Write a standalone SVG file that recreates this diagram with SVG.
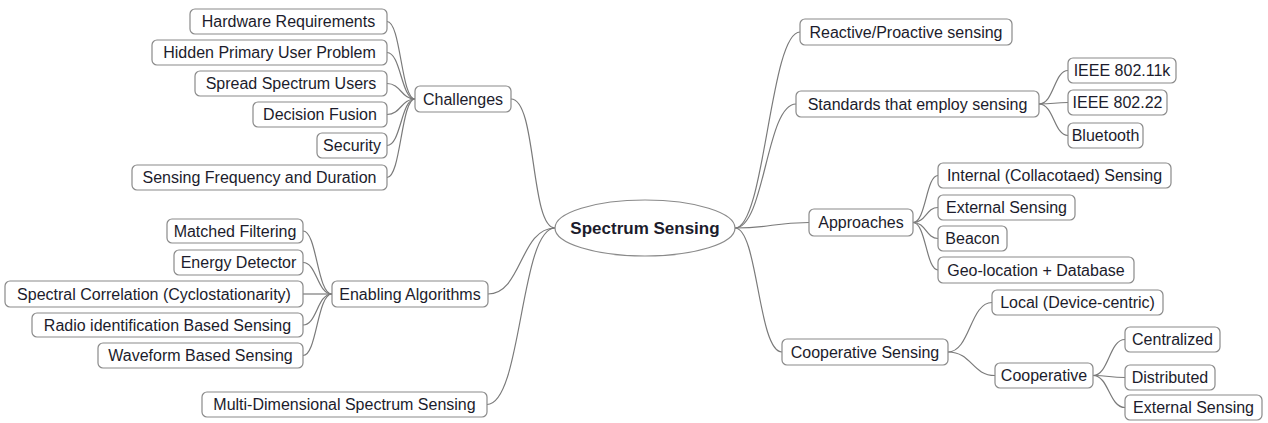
<svg xmlns="http://www.w3.org/2000/svg" width="1268" height="423" viewBox="0 0 1268 423">
<style>
.b{fill:#fff;stroke:#8a8a8a;stroke-width:1.2}
.t{font-family:"Liberation Sans",Arial,sans-serif;font-size:16px;fill:#1c1c2c;text-anchor:middle}
.c{fill:none;stroke:#7a7a7a;stroke-width:1.2}
.m{font-family:"Liberation Sans",Arial,sans-serif;font-size:17px;font-weight:bold;fill:#1c1c2c;text-anchor:middle}
</style>
<rect width="1268" height="423" fill="#fff"/>
<g id="connectors">
<path class="c" d="M387,21.5 C401,21.5 401,99 415,99"/>
<path class="c" d="M387,52.5 C401,52.5 401,99 415,99"/>
<path class="c" d="M387,83.5 C401,83.5 401,99 415,99"/>
<path class="c" d="M387,114.5 C401,114.5 401,99 415,99"/>
<path class="c" d="M387,145.5 C401,145.5 401,99 415,99"/>
<path class="c" d="M387,177.5 C401,177.5 401,99 415,99"/>
<path class="c" d="M303,231 C317,231 317,294 332,294"/>
<path class="c" d="M303,262.5 C317,262.5 317,294 332,294"/>
<path class="c" d="M303,294 C317,294 317,294 332,294"/>
<path class="c" d="M303,325 C317,325 317,294 332,294"/>
<path class="c" d="M303,355.5 C317,355.5 317,294 332,294"/>
<path class="c" d="M555,228 C530,228 537,99 511,99"/>
<path class="c" d="M555,228 C520,228 522,294 488,294"/>
<path class="c" d="M555,228 C520,228 522,404.5 487,404.5"/>
<path class="c" d="M735,228 C765,228 770,32 800,32"/>
<path class="c" d="M735,228 C765,228 766,104 796,104"/>
<path class="c" d="M735,228 C772,228 772,222.5 809,222.5"/>
<path class="c" d="M735,228 C758,228 758,352 782,352"/>
<path class="c" d="M1039,104 C1054,104 1054,70.5 1068,70.5"/>
<path class="c" d="M1039,104 C1054,104 1054,102.5 1068,102.5"/>
<path class="c" d="M1039,104 C1054,104 1054,135.5 1068,135.5"/>
<path class="c" d="M913,222.5 C926,222.5 926,175.5 938,175.5"/>
<path class="c" d="M913,222.5 C926,222.5 926,207.5 938,207.5"/>
<path class="c" d="M913,222.5 C926,222.5 926,238.5 938,238.5"/>
<path class="c" d="M913,222.5 C926,222.5 926,270 938,270"/>
<path class="c" d="M948,352 C970,352 970,302.5 992,302.5"/>
<path class="c" d="M948,352 C972,352 972,375.5 995,375.5"/>
<path class="c" d="M1093,375.5 C1109,375.5 1109,339.5 1125,339.5"/>
<path class="c" d="M1093,375.5 C1109,375.5 1109,377.5 1125,377.5"/>
<path class="c" d="M1093,375.5 C1109,375.5 1109,407.5 1125,407.5"/>
</g>
<g id="center"><ellipse class="b" cx="645" cy="228" rx="90" ry="28"/><text class="m" x="645" y="234">Spectrum Sensing</text></g>
<g id="hw"><rect class="b" x="190" y="9" width="197" height="25" rx="5"/><text class="t" x="288.5" y="27">Hardware Requirements</text></g>
<g id="hp"><rect class="b" x="152" y="40" width="235" height="25" rx="5"/><text class="t" x="269.5" y="58">Hidden Primary User Problem</text></g>
<g id="ss"><rect class="b" x="195" y="71" width="192" height="25" rx="5"/><text class="t" x="291" y="89">Spread Spectrum Users</text></g>
<g id="df"><rect class="b" x="253" y="102" width="134" height="25" rx="5"/><text class="t" x="320" y="120">Decision Fusion</text></g>
<g id="sec"><rect class="b" x="317" y="133" width="70" height="25" rx="5"/><text class="t" x="352" y="151">Security</text></g>
<g id="sfd"><rect class="b" x="132" y="165" width="255" height="25" rx="5"/><text class="t" x="259.5" y="183">Sensing Frequency and Duration</text></g>
<g id="chal"><rect class="b" x="415" y="86" width="96" height="26" rx="5"/><text class="t" x="463" y="104.5">Challenges</text></g>
<g id="mf"><rect class="b" x="167" y="219" width="136" height="24" rx="5"/><text class="t" x="235" y="236.5">Matched Filtering</text></g>
<g id="ed"><rect class="b" x="174" y="250" width="129" height="25" rx="5"/><text class="t" x="238.5" y="268">Energy Detector</text></g>
<g id="sc"><rect class="b" x="5" y="281" width="298" height="26" rx="5"/><text class="t" x="154" y="299.5">Spectral Correlation (Cyclostationarity)</text></g>
<g id="ri"><rect class="b" x="32" y="313" width="271" height="24" rx="5"/><text class="t" x="167.5" y="330.5">Radio identification Based Sensing</text></g>
<g id="wf"><rect class="b" x="98" y="343" width="205" height="25" rx="5"/><text class="t" x="200.5" y="361">Waveform Based Sensing</text></g>
<g id="ea"><rect class="b" x="332" y="281" width="156" height="26" rx="5"/><text class="t" x="410" y="299.5">Enabling Algorithms</text></g>
<g id="md"><rect class="b" x="202" y="392" width="285" height="25" rx="5"/><text class="t" x="344.5" y="410">Multi-Dimensional Spectrum Sensing</text></g>
<g id="rp"><rect class="b" x="800" y="19" width="212" height="26" rx="5"/><text class="t" x="906" y="37.5">Reactive/Proactive sensing</text></g>
<g id="st"><rect class="b" x="796" y="91" width="243" height="26" rx="5"/><text class="t" x="917.5" y="109.5">Standards that employ sensing</text></g>
<g id="i11"><rect class="b" x="1068" y="58" width="108" height="25" rx="5"/><text class="t" x="1122" y="76">IEEE 802.11k</text></g>
<g id="i22"><rect class="b" x="1068" y="90" width="99" height="25" rx="5"/><text class="t" x="1117.5" y="108">IEEE 802.22</text></g>
<g id="bt"><rect class="b" x="1068" y="123" width="75" height="25" rx="5"/><text class="t" x="1105.5" y="141">Bluetooth</text></g>
<g id="ap"><rect class="b" x="809" y="209" width="104" height="27" rx="5"/><text class="t" x="861" y="228">Approaches</text></g>
<g id="in"><rect class="b" x="938" y="163" width="233" height="25" rx="5"/><text class="t" x="1054.5" y="181">Internal (Collacotaed) Sensing</text></g>
<g id="ex"><rect class="b" x="938" y="195" width="137" height="25" rx="5"/><text class="t" x="1006.5" y="213">External Sensing</text></g>
<g id="be"><rect class="b" x="938" y="226" width="69" height="25" rx="5"/><text class="t" x="972.5" y="244">Beacon</text></g>
<g id="geo"><rect class="b" x="938" y="257" width="196" height="26" rx="5"/><text class="t" x="1036" y="275.5">Geo-location + Database</text></g>
<g id="loc"><rect class="b" x="992" y="290" width="171" height="25" rx="5"/><text class="t" x="1077.5" y="308">Local (Device-centric)</text></g>
<g id="cs"><rect class="b" x="782" y="339" width="166" height="26" rx="5"/><text class="t" x="865" y="357.5">Cooperative Sensing</text></g>
<g id="co"><rect class="b" x="995" y="363" width="98" height="25" rx="5"/><text class="t" x="1044" y="381">Cooperative</text></g>
<g id="cen"><rect class="b" x="1125" y="327" width="95" height="25" rx="5"/><text class="t" x="1172.5" y="345">Centralized</text></g>
<g id="dis"><rect class="b" x="1125" y="365" width="90" height="25" rx="5"/><text class="t" x="1170" y="383">Distributed</text></g>
<g id="ext2"><rect class="b" x="1125" y="395" width="137" height="25" rx="5"/><text class="t" x="1193.5" y="413">External Sensing</text></g>
</svg>
